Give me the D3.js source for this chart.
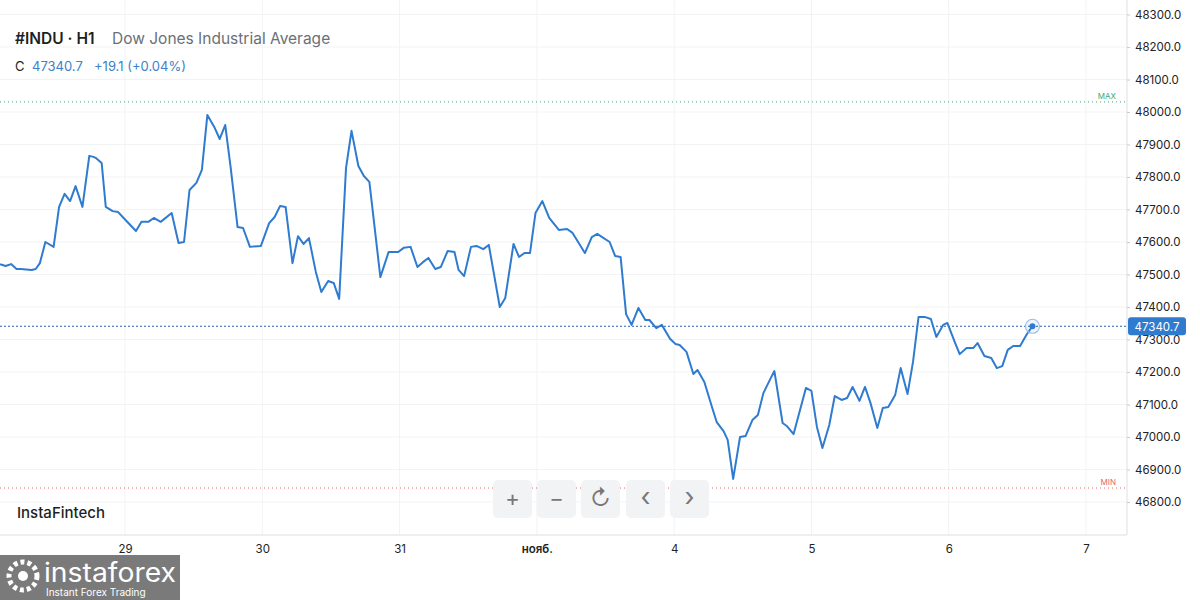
<!DOCTYPE html>
<html>
<head>
<meta charset="utf-8">
<script src="https://cdn.jsdelivr.net/npm/d3@7"></script>
<style>
  body { margin: 0; background: #fff; font-family: Inter, "Noto Sans", sans-serif; }
</style>
</head>
<body>
<div id="chart"></div>
<script>
// time in days after the "29" tick, price values
const times = [-0.91,-0.87,-0.83,-0.79,-0.76,-0.68,-0.65,-0.62,-0.58,-0.52,-0.48,-0.44,-0.40,-0.36,-0.31,-0.26,-0.23,-0.21,-0.17,-0.14,-0.09,-0.05,-0.01,0.08,0.12,0.17,0.21,0.26,0.34,0.39,0.43,0.47,0.52,0.56,0.60,0.65,0.69,0.73,0.77,0.82,0.86,0.91,0.99,1.05,1.09,1.13,1.17,1.22,1.26,1.30,1.34,1.39,1.43,1.48,1.52,1.56,1.61,1.65,1.70,1.74,1.78,1.86,1.92,1.99,2.03,2.08,2.13,2.17,2.21,2.26,2.30,2.35,2.40,2.43,2.47,2.52,2.56,2.61,2.65,2.73,2.77,2.83,2.87,2.91,2.95,2.99,3.04,3.09,3.16,
  3.22,3.26,3.35,3.40,3.44,3.53,3.57,3.61,3.65,3.69,3.74,3.79,3.82,3.87,3.91,3.97,4.01,4.04,4.09,4.14,4.17,4.22,4.28,4.31,4.36,4.39,4.43,4.48,4.52,4.57,4.61,4.65,4.70,4.73,4.79,4.82,4.87,4.96,5.00,5.04,5.08,5.13,5.17,5.22,5.26,5.30,5.35,5.39,5.43,5.48,5.52,5.56,5.61,5.65,5.70,5.74,5.78,5.83,5.87,5.91,5.96,5.99,6.05,6.08,6.13,6.18,6.21,6.26,6.31,6.35,6.39,6.43,6.47,6.52,6.57,6.61];
const prices = [47532,47526,47532,47517,47517,47514,47517,47535,47600,47585,47708,47748,47726,47772,47708,47865,47862,47858,47843,47708,47695,47692,47674,47634,47662,47662,47674,47662,47689,47597,47600,47760,47782,47822,47991,47954,47917,47960,47828,47646,47643,47585,47588,47658,47677,47711,47708,47535,47618,47594,47612,47508,47446,47480,47474,47425,47828,47942,47834,47803,47785,47492,47569,47569,47582,47585,47523,47538,47551,47517,47523,47572,47569,47514,47495,47585,47588,47578,47591,47400,47428,47594,47554,47566,47566,47689,47726,47674,47637,
  47640,47628,47566,47615,47625,47600,47557,47554,47378,47345,47397,47360,47360,47335,47345,47302,47286,47283,47262,47194,47206,47169,47086,47046,47018,46991,46871,47000,47003,47052,47068,47135,47178,47203,47043,47034,47009,47151,47142,47031,46966,47037,47126,47114,47120,47154,47111,47154,47105,47028,47089,47092,47129,47212,47132,47231,47369,47369,47363,47308,47345,47351,47286,47255,47274,47274,47289,47249,47243,47212,47218,47268,47280,47280,47317,47340.7];
const dayTicks = [0,1,2,3,4,5,6,7];
const dayLabels = ["29","30","31","нояб.","4","5","6","7"];
const priceTicks = [46800,46900,47000,47100,47200,47300,47400,47500,47600,47700,47800,47900,48000,48100,48200,48300];
const lastPrice = 47340.7;
const maxLevel = 48031;
const minLevel = 46843;

const W = 1200, H = 600;
const plotRight = 1127, plotBottom = 535;
const blue = "#2f7bd0";

const svg = d3.select("#chart").append("svg").attr("width", W).attr("height", H);

const x = d3.scaleLinear().domain([0, 7]).range([125, 1086]);
const y = d3.scaleLinear().domain([46800, 48000]).range([502, 112]);

// grid
svg.append("g").selectAll("line").data(priceTicks).join("line")
  .attr("x1", 0).attr("x2", plotRight).attr("y1", d => y(d)).attr("y2", d => y(d))
  .attr("stroke", "#f2f3f5");
svg.append("g").selectAll("line").data(dayTicks).join("line")
  .attr("x1", d => x(d)).attr("x2", d => x(d)).attr("y1", 0).attr("y2", plotBottom)
  .attr("stroke", "#f2f3f5");

// axes borders
svg.append("line").attr("x1", plotRight).attr("x2", plotRight).attr("y1", 0).attr("y2", plotBottom).attr("stroke", "#dcdfe4");
svg.append("line").attr("x1", 0).attr("x2", plotRight).attr("y1", plotBottom).attr("y2", plotBottom).attr("stroke", "#dcdfe4");

// right axis
const yAxis = svg.append("g").attr("transform", `translate(${plotRight},0)`)
  .call(d3.axisRight(y).tickValues(priceTicks).tickFormat(d3.format(".1f")).tickSize(3));
yAxis.select(".domain").remove();
yAxis.selectAll("line").attr("stroke", "#c8ccd2");
yAxis.selectAll("text").attr("fill", "#222").attr("font-size", 11.5).attr("font-family", "Inter, sans-serif").attr("x", 8);

// bottom axis
const xAxis = svg.append("g").attr("transform", `translate(0,${plotBottom})`)
  .call(d3.axisBottom(x).tickValues(dayTicks).tickFormat((d, i) => dayLabels[i]).tickSize(0));
xAxis.select(".domain").remove();
xAxis.selectAll("text").attr("fill", "#222").attr("font-size", 11.5).attr("font-family", "Inter, sans-serif")
  .attr("dy", 15).attr("font-weight", (d, i) => i === 3 ? 600 : 400);

// max / min levels
svg.append("line").attr("x1", 0).attr("x2", plotRight).attr("y1", y(maxLevel)).attr("y2", y(maxLevel))
  .attr("stroke", "#3aa77b").attr("stroke-dasharray", "1,3");
svg.append("text").attr("x", 1116).attr("y", y(maxLevel) - 3).attr("text-anchor", "end")
  .attr("fill", "#3aa77b").attr("font-size", 8).text("MAX");
svg.append("line").attr("x1", 0).attr("x2", plotRight).attr("y1", y(minLevel)).attr("y2", y(minLevel))
  .attr("stroke", "#e06a6a").attr("stroke-dasharray", "1,3");
svg.append("text").attr("x", 1116).attr("y", y(minLevel) - 3).attr("text-anchor", "end")
  .attr("fill", "#e06a6a").attr("font-size", 8).text("MIN");

// last price line
svg.append("line").attr("x1", 0).attr("x2", plotRight).attr("y1", y(lastPrice)).attr("y2", y(lastPrice))
  .attr("stroke", "#2a5fa8").attr("stroke-dasharray", "2,2");

// price line
const data = times.map((t, i) => ({ t, p: prices[i] }));
svg.append("path").datum(data)
  .attr("fill", "none").attr("stroke", blue).attr("stroke-width", 2).attr("stroke-linejoin", "round")
  .attr("d", d3.line().x(d => x(d.t)).y(d => y(d.p)));

const last = data[data.length - 1];
svg.append("circle").attr("cx", x(last.t)).attr("cy", y(last.p)).attr("r", 7)
  .attr("fill", "rgba(47,123,208,0.08)").attr("stroke", "#9dbde4").attr("stroke-width", 1.2);
svg.append("circle").attr("cx", x(last.t)).attr("cy", y(last.p)).attr("r", 3).attr("fill", blue);

// last price badge
svg.append("rect").attr("x", plotRight + 1).attr("y", y(lastPrice) - 9).attr("width", 58).attr("height", 18).attr("rx", 3).attr("fill", "#2f7bd0");
svg.append("text").attr("x", plotRight + 30).attr("y", y(lastPrice) + 4.5).attr("text-anchor", "middle")
  .attr("fill", "#fff").attr("font-size", 11.5).attr("font-family", "Inter, sans-serif").text(lastPrice.toFixed(1));

// header
svg.append("text").attr("x", 15).attr("y", 44).attr("font-size", 15.5).attr("font-weight", 600).attr("fill", "#1d1f23").text("#INDU · H1");
svg.append("text").attr("x", 112).attr("y", 44).attr("font-size", 15.5).attr("fill", "#6b6f76").text("Dow Jones Industrial Average");
svg.append("text").attr("x", 15).attr("y", 71).attr("font-size", 13).attr("fill", "#1d1f23").text("C");
svg.append("text").attr("x", 32).attr("y", 71).attr("font-size", 13).attr("fill", "#3b82c8").text("47340.7");
svg.append("text").attr("x", 94).attr("y", 71).attr("font-size", 13).attr("fill", "#3b82c8").text("+19.1 (+0.04%)");

// toolbar buttons
const buttons = ["+", "−", "↻", "‹", "›"];
const bx = [493, 537, 581, 626, 670];
buttons.forEach((b, i) => {
  svg.append("rect").attr("x", bx[i]).attr("y", 480).attr("width", 39).attr("height", 38).attr("rx", 5).attr("fill", "#f2f3f4");
  svg.append("text").attr("x", bx[i] + 19.5).attr("y", 506).attr("text-anchor", "middle")
    .attr("font-size", i >= 3 ? 26 : 22).attr("fill", "#777").text(b);
});

// watermark
svg.append("text").attr("x", 17).attr("y", 518).attr("font-size", 15).attr("font-weight", 500).attr("fill", "#1d1f23").text("InstaFintech");

// instaforex logo
const logo = svg.append("g").attr("transform", "translate(0,555)");
logo.append("rect").attr("width", 180).attr("height", 45).attr("fill", "#7a7a7a");
logo.append("circle").attr("cx", 23).attr("cy", 21).attr("r", 14).attr("fill", "none").attr("stroke", "#fff").attr("stroke-width", 5).attr("stroke-dasharray", "4,3");
logo.append("circle").attr("cx", 23).attr("cy", 21).attr("r", 5).attr("fill", "#fff");
logo.append("text").attr("x", 44).attr("y", 27).attr("font-size", 26).attr("fill", "#fff")
  .attr("textLength", 132).attr("lengthAdjust", "spacingAndGlyphs").text("instaforex");
logo.append("text").attr("x", 46).attr("y", 41).attr("font-size", 10).attr("fill", "#fff").text("Instant Forex Trading");
</script>
</body>
</html>
